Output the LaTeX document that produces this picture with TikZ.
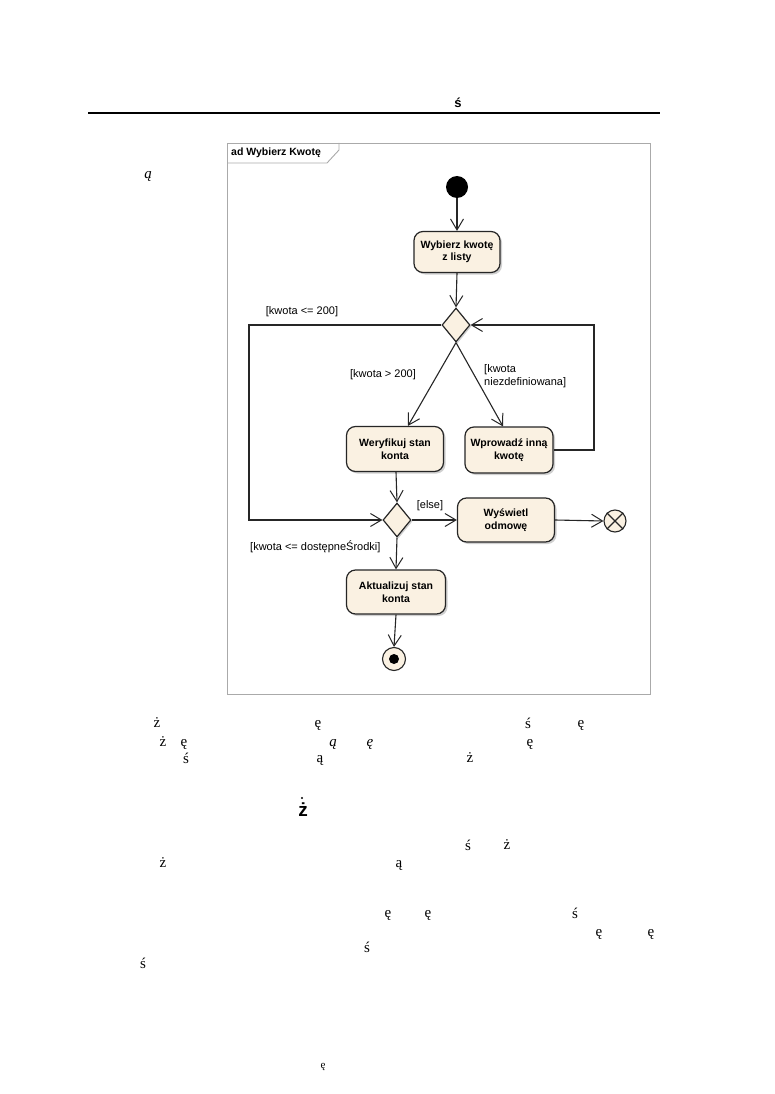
\documentclass[tikz,border=0pt]{standalone}
\usepackage{fontspec}
\setmainfont{Liberation Serif}
\newfontfamily\arial{Liberation Sans}
\usetikzlibrary{arrows.meta,shapes.geometric,shadows,calc}
\definecolor{cream}{RGB}{250,241,226}
\definecolor{framegray}{RGB}{170,170,170}
\tikzset{
  act/.style={rectangle, rounded corners=9pt, draw=black!85, line width=1.2pt, fill=cream,
    align=center, inner sep=1pt, font=\arial\bfseries\fontsize{10.5}{12.5}\selectfont,
    drop shadow={shadow xshift=2pt, shadow yshift=-2pt, fill=black!30, opacity=0.6}},
  dec/.style={diamond, draw=black!85, line width=1.2pt, fill=cream, inner sep=0pt,
    minimum width=28pt, minimum height=34pt,
    drop shadow={shadow xshift=1.5pt, shadow yshift=-1.5pt, fill=black!30, opacity=0.6}},
  flow/.style={line width=1.1pt, draw=black!85, -{Straight Barb[length=11pt,width=13pt,line width=1pt]}},
  lbl/.style={font=\arial\fontsize{11}{13}\selectfont, inner sep=0pt},
  glyph/.style={font=\fontsize{15}{18}\selectfont, inner sep=0pt},
  iglyph/.style={font=\itshape\fontsize{15}{18}\selectfont, inner sep=0pt}
}
\begin{document}
\begin{tikzpicture}[x=1pt,y=-1pt]
\useasboundingbox (0,0) rectangle (774,1094);
\fill[white] (0,0) rectangle (774,1094);

% header
\node[font=\arial\bfseries\fontsize{13}{15}\selectfont, inner sep=0pt] (h1) at (458,103) {ś};
\draw[line width=1.6pt] (88,113) coordinate (r1) -- (660,113) coordinate (r2);

% frame
\draw[framegray, line width=0.9pt] (227,143) rectangle (650,694);
\draw[framegray, line width=0.9pt] (227,163) -- (327,163) -- (339,150) -- (339,143);
\node[font=\arial\bfseries\fontsize{10.5}{12}\selectfont, anchor=west, inner sep=0pt] (title) at (231,153) {ad Wybierz Kwotę};

% nodes
\node[circle, fill=black, minimum size=22pt, inner sep=0pt] (init) at (457,187) {};
\node[act, minimum width=86pt, minimum height=41pt] (w1) at (457,252) {Wybierz kwotę\\z listy};
\node[dec] (d1) at (456,325) {};
\node[act, minimum width=97pt, minimum height=45pt] (wer) at (395,449) {Weryfikuj stan\\konta};
\node[act, minimum width=88pt, minimum height=46pt] (wpr) at (509,450) {Wprowadź inną\\kwotę};
\node[dec] (d2) at (397,520) {};
\node[act, minimum width=97pt, minimum height=44pt] (wys) at (506,520) {Wyświetl\\odmowę};
\node[circle, draw=black!85, line width=1.1pt, fill=cream, minimum size=22pt, inner sep=0pt] (ff) at (615,521) {};
\draw[line width=1.1pt, black!85] (ff.north west) -- (ff.south east) (ff.north east) -- (ff.south west);
\node[act, minimum width=99pt, minimum height=44pt] (akt) at (396,592) {Aktualizuj stan\\konta};
\node[circle, draw=black!85, line width=1.1pt, fill=cream, minimum size=23pt, inner sep=0pt] (af) at (394,659) {};
\node[circle, fill=black, minimum size=10pt, inner sep=0pt] (afin) at (af.center) {};

% helper coordinates
\coordinate (lc) at (249,325);
\coordinate (rc) at (594,450);

% connectors
\draw[flow] (init) -- (w1.north);
\draw[flow] (w1.south) -- (d1.north);
\draw[flow] (d1.south) -- ($(wer.north)+(13,0)$);
\draw[flow] (d1.south) -- ($(wpr.north)+(-6,0)$);
\draw[flow] (d1.west) -- (lc) |- (d2.west);
\draw[flow] (wpr.east) -- (rc) |- (d1.east);
\draw[flow] ($(wer.south)+(1,0)$) -- (d2.north);
\draw[flow] (d2.east) -- (wys.west);
\draw[flow] (wys.east) -- (ff.west);
\draw[flow] (d2.south) -- (akt.north);
\draw[flow] (akt.south) -- (af.north);

% guard labels
\node[lbl] (g1) at (302,312) {[kwota <= 200]};
\node[lbl] (g2) at (383,375) {[kwota > 200]};
\node[lbl, anchor=west, align=left] (g3) at (484,376) {[kwota\\niezdefiniowana]};
\node[lbl] (g4) at (430,506) {[else]};
\node[lbl, anchor=west] (g5) at (250,547) {[kwota <= dostępneŚrodki]};

% stray glyphs of the page
\node[iglyph] (s1) at (148,176) {ą};
\node[glyph] (s2) at (157,723) {ż};
\node[glyph] (s3) at (318,725) {ę};
\node[glyph] (s4) at (528,723) {ś};
\node[glyph] (s5) at (581,725) {ę};
\node[glyph] (s6) at (163,742) {ż};
\node[glyph] (s7) at (184,744) {ę};
\node[iglyph] (s8) at (333,744) {ą};
\node[iglyph] (s9) at (370,744) {ę};
\node[glyph] (s10) at (530,744) {ę};
\node[glyph] (s11) at (186,758) {ś};
\node[glyph] (s12) at (320,760) {ą};
\node[glyph] (s13) at (470,758) {ż};
\fill (302,798) circle (1.2pt);
\node[font=\arial\bfseries\fontsize{19}{22}\selectfont, inner sep=0pt] (s14) at (303,810) {ż};
\node[glyph] (s15) at (468,845) {ś};
\node[glyph] (s16) at (507,845) {ż};
\node[glyph] (s17) at (163,863) {ż};
\node[glyph] (s18) at (399,865) {ą};
\node[glyph] (s19) at (388,915) {ę};
\node[glyph] (s20) at (428,915) {ę};
\node[glyph] (s21) at (575,913) {ś};
\node[glyph] (s22) at (599,934) {ę};
\node[glyph] (s23) at (651,934) {ę};
\node[glyph] (s24) at (367,947) {ś};
\node[glyph] (s25) at (143,963) {ś};
\node[font=\fontsize{11}{13}\selectfont, inner sep=0pt] (s26) at (323,1067) {ę};
\end{tikzpicture}
\end{document}
